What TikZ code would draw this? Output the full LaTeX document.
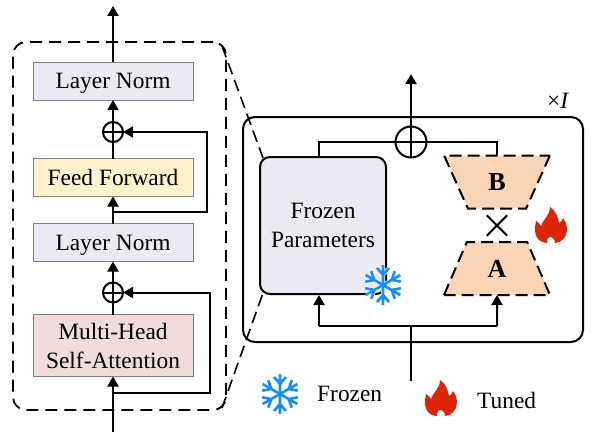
\documentclass[tikz,border=0pt]{standalone}
\usepackage{fontspec}
\setmainfont{Liberation Serif}
\usetikzlibrary{positioning,arrows.meta,calc,shapes.geometric}
\definecolor{normfill}{HTML}{EBE9F1}
\definecolor{feedfill}{HTML}{FFF2CC}
\definecolor{attnfill}{HTML}{F2DCDB}
\definecolor{trapfill}{HTML}{FBD5B5}
\definecolor{iceblue}{HTML}{1A8CFF}
\definecolor{firered}{HTML}{DD2308}
\tikzset{
  lbl/.style={font=\fontsize{23.4}{29}\selectfont,align=center,inner sep=0pt},
  blockbox/.style={lbl,draw=black!50,line width=0.8pt,minimum width=160pt,outer sep=0pt},
  onebox/.style={blockbox,minimum height=38pt,text height=15pt,text depth=0pt},
  sumnode/.style={circle,draw,line width=2pt,inner sep=0pt,outer sep=0pt,minimum size=#1,
    path picture={\draw[line width=2pt] (path picture bounding box.north) -- (path picture bounding box.south)
      (path picture bounding box.west) -- (path picture bounding box.east);}},
  link/.style={line width=2pt},
  arr/.style={link,-{Triangle[length=10pt,width=11pt]}},
  trapbox/.style={trapezium,trapezium stretches=true,trapezium left angle=67.5,trapezium right angle=67.5,
    minimum width=106pt,minimum height=53pt,fill=trapfill,draw,dash pattern=on 12pt off 6pt,line width=2pt,
    inner sep=0pt,outer sep=0pt,font=\fontsize{26}{26}\selectfont\bfseries},
  snowflake/.pic={
    \foreach \ang in {30,90,...,330}
      {\draw[white,line width=4pt,rotate=\ang] (2,0) -- (18,0) (17,-6) -- (10,0) -- (17,6);}
    \foreach \ang in {30,90,...,330}
      {\draw[iceblue,line width=2.6pt,rotate=\ang] (0,0) -- (20,0) (17,-6) -- (10,0) -- (17,6);}
  },
  flame/.pic={
    \fill[firered] (4,18) .. controls (4,13) and (0,12) .. (-0.5,12) .. controls (-4,12) and (-4,16) .. (-4,18)
      .. controls (-10,18) and (-16,14) .. (-16,4) .. controls (-16,0) and (-15,-2) .. (-15,-4)
      .. controls (-13,-3) and (-11,-1) .. (-10,1) .. controls (-8,-6) and (-1,-9) .. (-1,-18)
      .. controls (5,-14) and (7,-8) .. (8,-2) .. controls (10,-3) and (11,-4) .. (12,-7)
      .. controls (15,-3) and (16,1) .. (16,5) .. controls (16,12) and (10,18) .. (4,18) -- cycle;
  }
}
\begin{document}
\begin{tikzpicture}[x=1pt,y=-1pt]
\useasboundingbox (0,0) rectangle (591,436);
% left block
\node[draw,dash pattern=on 12pt off 7pt,line width=1.8pt,rounded corners=13pt,minimum width=213pt,minimum height=368pt] (outerblock) at (119.5,226) {};
\node[onebox,fill=normfill] (normtop) at (113,81) {Layer Norm};
\node[onebox,fill=feedfill] (feed) at (113,177.5) {Feed Forward};
\node[onebox,fill=normfill] (normlow) at (113,242.5) {Layer Norm};
\node[blockbox,fill=attnfill,minimum height=62pt] (attn) at (113,345.5) {Multi-Head\\Self-Attention};
\node[sumnode=20pt] (sumtop) at (113,132) {};
\node[sumnode=20pt] (sumlow) at (113,292.5) {};
\coordinate (inleft) at (113,432);
\coordinate (outleft) at (113,6);
\coordinate (skiplow) at (113,393);
\coordinate (skiptop) at (113,212);
\draw[arr] (inleft) -- (attn.south);
\draw[link] (attn.north) -- (sumlow.south);
\draw[arr] (sumlow.north) -- (normlow.south);
\draw[arr] (normlow.north) -- (feed.south);
\draw[link] (feed.north) -- (sumtop.south);
\draw[arr] (sumtop.north) -- (normtop.south);
\draw[arr] (normtop.north) -- (outleft);
\draw[arr] (skiplow) -- (210,393) -- (210,292.5) -- (sumlow.east);
\draw[arr] (skiptop) -- (207,212) -- (207,132) -- (sumtop.east);
% right block
\node[draw,line width=2pt,rounded corners=12pt,minimum width=340pt,minimum height=225pt] (mainbox) at (413,229.5) {};
\node[lbl,draw,fill=normfill,line width=2pt,rounded corners=10pt,minimum width=126pt,minimum height=137pt] (frozen) at (323,225.5) {Frozen\\Parameters};
\node[trapbox,shape border rotate=180] (trapb) at (497,182) {B};
\node[trapbox] (trapa) at (497,268.5) {A};
\node[sumnode=31pt] (summain) at (411,142) {};
\node[inner sep=0pt,minimum size=20pt] (crossnode) at (497,225.5) {};
\draw[line width=2pt] (crossnode.north west) -- (crossnode.south east) (crossnode.north east) -- (crossnode.south west);
\coordinate (inmain) at (411,381);
\coordinate (splitmain) at (411,326);
\coordinate (splitleft) at (319,326);
\coordinate (splitright) at (497,326);
\coordinate (outmain) at (411,74);
\coordinate (skipmain) at (319,142);
\draw[link] (inmain) -- (splitmain);
\draw[link] (splitleft) -- (splitright);
\draw[arr] (splitleft) -- (splitleft |- frozen.south);
\draw[arr] (splitright) -- (trapa.south);
\draw[link] (skipmain |- frozen.north) -- (skipmain) -- (summain.west);
\draw[link] (summain.east) -| (trapb.north);
\draw[arr] (summain.north) -- (outmain);
\node[lbl] (repeatlbl) at (558,101) {×\textit{I}};
% zoom lines
\coordinate (ziptop) at (222,46);
\coordinate (zipbot) at (222,408);
\coordinate (frozentl) at (263,158);
\coordinate (frozenbl) at (263,293);
\draw[line width=1.6pt,dash pattern=on 12pt off 6pt] (ziptop) -- (frozentl);
\draw[line width=1.6pt,dash pattern=on 12pt off 6pt] (zipbot) -- (frozenbl);
% icons
\pic at (383,285) {snowflake};
\pic at (551,225) {flame};
\pic at (280,394) {snowflake};
\pic at (441,398) {flame};
\node[lbl,anchor=west] (frozenlbl) at (317,394) {Frozen};
\node[lbl,anchor=west] (tunedlbl) at (477,400) {Tuned};
\end{tikzpicture}
\end{document}
